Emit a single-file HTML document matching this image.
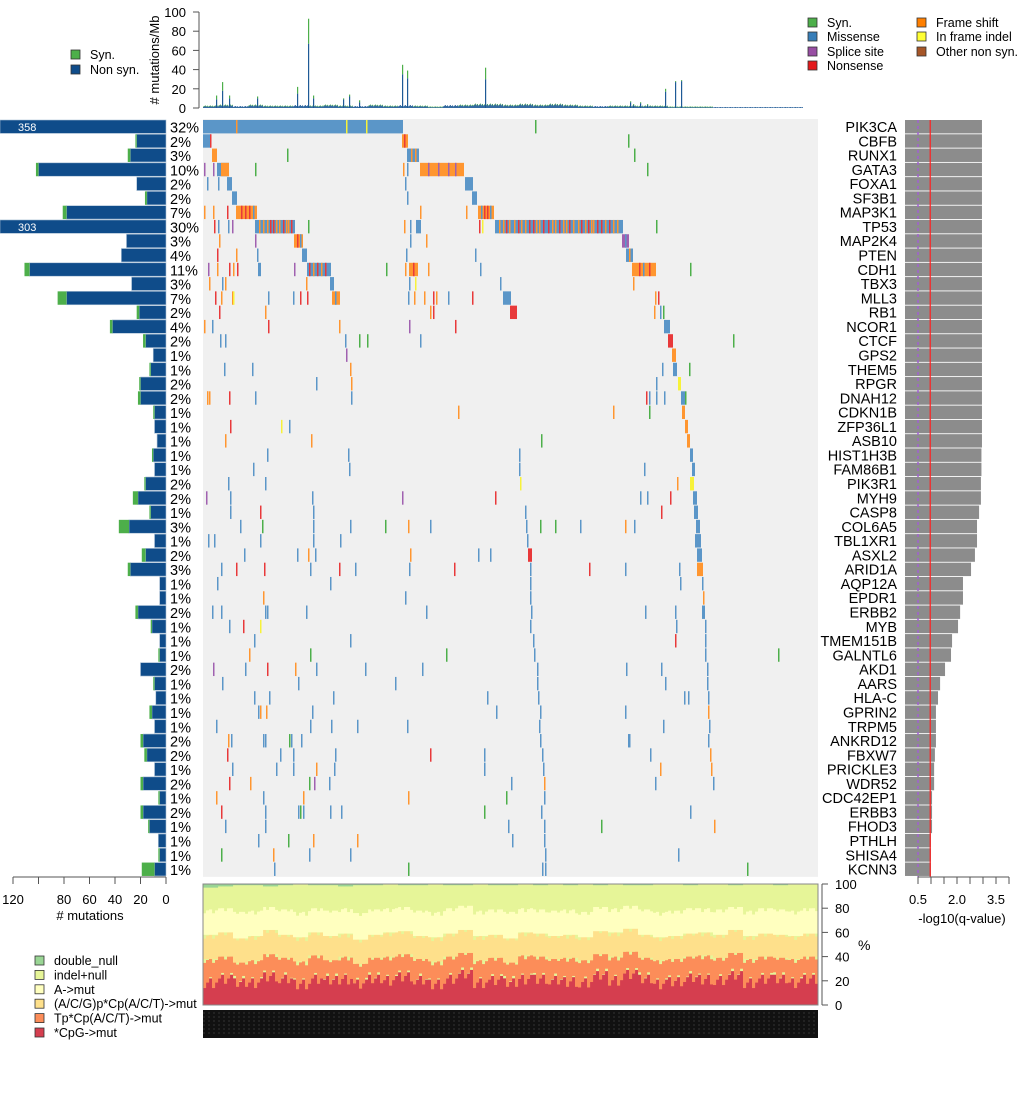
<!DOCTYPE html>
<html><head><meta charset="utf-8">
<style>
html,body{margin:0;padding:0;background:#fff;}
svg{display:block;font-family:"Liberation Sans",sans-serif;}
</style></head>
<body>
<svg id="chart" width="1020" height="1116" viewBox="0 0 1020 1116" xmlns="http://www.w3.org/2000/svg">
<g id="hist"></g>
<g id="matrix"></g>
<g id="leftbars"></g>
<g id="qbars"></g>
<g id="spectrum"></g>
<g id="legends"></g>
</svg>
<script>
const genes=["PIK3CA","CBFB","RUNX1","GATA3","FOXA1","SF3B1","MAP3K1","TP53","MAP2K4","PTEN","CDH1","TBX3","MLL3","RB1","NCOR1","CTCF","GPS2","THEM5","RPGR","DNAH12","CDKN1B","ZFP36L1","ASB10","HIST1H3B","FAM86B1","PIK3R1","MYH9","CASP8","COL6A5","TBL1XR1","ASXL2","ARID1A","AQP12A","EPDR1","ERBB2","MYB","TMEM151B","GALNTL6","AKD1","AARS","HLA-C","GPRIN2","TRPM5","ANKRD12","FBXW7","PRICKLE3","WDR52","CDC42EP1","ERBB3","FHOD3","PTHLH","SHISA4","KCNN3"];
const pct=[32,2,3,10,2,2,7,30,3,4,11,3,7,2,4,2,1,1,2,2,1,1,1,1,1,2,2,1,3,1,2,3,1,1,2,1,1,1,2,1,1,1,1,2,2,1,2,1,2,1,1,1,1];
const nonSyn=[358,23,28,100,23,15,78,303,31,35,107,27,78,21,42,16,10,12,20,20,9,9,7,10,9,16,22,12,29,9,16,28,5,5,22,11,5,5,20,9,8,11,9,18,15,9,18,5,18,13,6,5,9];
const syn=[0,1,2,2,0,1.5,3,0,0,0,4,0,7,2,2,2,0,1,1,2,1,0,0,1,0,1,4,1,8,0,3,2,0,0,2,1,0,1,0,1,0,2,0,2,2,0,2,1,2,1,0,1,10];
const qval=[2.96,2.96,2.96,2.96,2.96,2.96,2.96,2.96,2.96,2.96,2.96,2.96,2.96,2.96,2.96,2.96,2.96,2.96,2.96,2.96,2.96,2.96,2.96,2.94,2.94,2.92,2.92,2.85,2.77,2.77,2.69,2.54,2.23,2.23,2.12,2.04,1.81,1.77,1.54,1.35,1.27,1.19,1.19,1.19,1.15,1.12,1.12,1.04,1.04,1.04,1.0,1.0,1.0];
const muts=[
"0-199:m 33:f 143:i 163:i 332:s",
"0-7:m 7:n 199-204:f 201:n 425:s",
"9-13:f 84:s 204-215:m 208:f 212:f 431:s",
"1:p 10:p 14-25:m 18-25:f 52:s 200:f 204:m 217-260:f 225:p 235:p 245:p 252:p 444:s",
"4:m 15:m 24-28:m 202:m 262-269:m",
"29-33:m 204:m 269-273:m",
"1:f 10:f 24:n 33-53:f 38:n 42:n 46:n 50:m 217:f 263:f 275-290:f 278:m 281:n 284:n 287:m",
"11:n 15:m 25:m 29:p 52-91:m 56:f 60:f 64:f 67:n 70:n 73:f 76:f 80:n 83:f 85:f 88:n 105:s 201:f 207:m 213-217:m 276:n 279:i 292-419:m 296:f 300:f 303:n 306:f 311:f 315:n 318:f 322:f 326:n 330:n 333:f 336:f 340:n 345:n 349:f 352:f 356:n 360:f 363:f 366:n 370:f 375:f 378:n 382:f 385:n 388:f 390:f 394:n 398:n 402:f 406:n 410:f 414:f 453:s",
"16:f 52:p 91-99:f 94:n 97:m 207:m 223:f 419-425:p 422:m",
"14:n 33:f 54:m 99-103:m 203:m 272:m 423-429:m 426:f",
"5:p 14:f 26:n 30:f 34:n 55-57:m 91:p 104-127:m 106:n 110:f 114:n 118:f 122:n 183:s 202:f 206-214:f 210:n 225:f 277:m 429-452:f 436:n 440:m 446:n 487:s",
"6:f 19:m 22:f 103:f 127-130:m 206:m 212:i 297:m 430:f",
"12:n 18:f 29:f 30:i 65:m 90:m 97:n 104:n 129-136:f 132:m 205:m 211:f 221:f 230:n 233:f 245:m 269:n 300-307:m 455:n 452:f",
"16:n 62:f 227:f 230:n 307-313:n 460:s 451:f 457:m",
"1:f 9:m 65:n 136:f 206:p 252:n 461-466:m",
"17:m 22:m 142:m 156:s 164:s 217:m 465-469:n 530:s",
"143:p 469-472:f",
"21:m 49:m 147:f 459:m 470-473:m 486:s",
"113:m 148:f 453:m 475-477:i",
"4:f 4:f 6:f 26:n 52:m 148:m 443:n 446:m 453:m 461:m 478-481:m 482:s",
"255:f 479-481:f 446:s 410:f",
"27:n 78:i 86:m 482-484:f",
"22:f 108:f 338:s 484-486:f",
"64:m 145:m 316:m 487-489:m",
"50:m 146:m 316:m 441:m 489-491:m",
"25:m 62:m 317:i 474:f 487-490:i",
"3:p 27:m 109:m 199:p 292:n 437:m 444:m 467:n 490-493:m",
"27:m 57:n 110:m 322:m 458:n 491-494:m",
"37:m 59:s 110:m 147:m 182:s 205:f 227:m 323:m 337:s 352:s 377:m 422:f 431:m 493-496:m",
"5:m 11:m 57:m 110:m 137:m 324:m 492-497:m",
"41:m 94:m 105:f 112:m 207:f 275:m 287:m 325-328:n 494-498:m",
"18:m 33:n 61:n 107:m 136:n 152:m 206:m 251:n 327:m 386:n 422:m 476:m 494-499:f",
"14:m 127:m 327:m 477:m 499:m",
"60:f 202:m 327:m 500:f",
"9:m 18:m 62:m 64:m 103:m 223:m 328:m 442:m 472:m 499-501:m",
"26:m 40:n 57:i 327:m 473:m 502:m",
"51:m 147:m 330:m 472:n 502:m",
"46:f 107:s 243:s 331:m 502:m 575:s",
"10:p 42:m 64:n 92:f 113:m 162:m 219:m 334:m 423:m 458:m 504:m",
"19:m 95:m 192:m 334:m 462:m 504:m",
"51:m 66:m 130:m 284:m 335:m 481:m 485:m 505:m",
"55:m 57:f 63:f 109:m 293:m 337:m 422:m 505:f",
"13:m 107:m 128:m 154:m 204:m 336:m 460:m 506:m",
"25:f 28:m 60:m 62:m 86:s 88:m 98:m 337:m 425:m 426:m 505:m",
"24:n 77:m 90:m 132:m 227:n 281:m 339:m 447:m 507:f",
"29:m 73:m 90:m 113:f 131:m 281:m 340:m 457:f 508:f",
"26:n 47:f 106:s 111:p 126:m 308:m 341:f 452:m 510:m",
"13:f 60:m 100:f 205:f 303:s 341:m",
"18:n 62:m 95:m 97:s 100:m 127:m 138:m 281:s 338:m 487:m",
"22:m 62:m 305:m 341:m 398:s 511:f",
"55:m 85:s 110:f 154:f 309:m 341:m",
"18:s 70:f 106:m 147:m 342:m 475:m",
"71:m 205:s 339:m 342:m 544:s"
];
const typeColor={s:"#4daf4a",m:"#5b96c8",p:"#a061b0",n:"#e8393a",f:"#ff9630",i:"#f7f23a",o:"#a65628"};
const peakIdx=[13,19,26,54,94,105,110,140,146,156,199,204,282,427,437,462,472,478,430,444];
const peakNon=[9,18,10,10,15,67,10,9,12,6,35,31,30,6,5,17,27,28,3,3];
const peakSyn=[4,9,3,2,7,26,3,1,2,2,10,8,12,1,1,3,1,1,1,1];
const baseNon=[2,3,2,3,2,2,3,2,3,2,2,3,2,3,2,1,3,3,4,4,3,4,3,4,3,2,2,2,2,2,2,1,1,1,1,1,1,1,1,1,0];
const baseSyn=[1,1,0,1,1,1,0,1,1,1,0,1,1,0,1,1,0,1,1,1,1,1,1,1,1,1,0,1,1,1,1,1,1,1,0,0,0,0,0,0,0];
const specCpG=[20,22,18,20,24,21,19,22,20,23,18,21,22,24,20,19,22,25,20,21,18,23,22,20,21,19,24,22,26,21,19,20,22,23,21,24,20,22,21,20,22];
const specTp=[38,40,35,37,42,39,36,41,37,40,34,39,40,42,38,36,40,43,37,39,35,41,40,38,39,37,42,40,44,39,37,38,40,41,39,43,38,40,39,38,40];
const specACG=[58,60,55,57,62,58,56,60,57,59,54,58,60,61,57,56,59,62,57,58,55,60,59,57,58,56,61,60,63,58,56,57,59,60,58,62,57,59,58,57,59];
const specA=[79,80,77,78,81,79,77,80,78,80,76,79,80,81,78,77,80,82,78,79,77,80,79,78,79,77,81,80,82,79,77,78,80,80,79,81,78,80,79,78,80];
const specDbl=[97,98,99,99,98,99,100,99,99,98,99,99,100,99,99,100,99,99,100,99,99,100,99,100,99,100,99,100,99,99,100,100,99,100,100,99,100,100,99,100,100];

const NS="http://www.w3.org/2000/svg";
function mk(parent,tag,attrs,text){const e=document.createElementNS(NS,tag);for(const k in attrs)e.setAttribute(k,attrs[k]);if(text!==undefined)e.textContent=text;parent.appendChild(e);return e;}

const MX0=203,MX1=818,NSAMP=615,ROW0=120,PITCH=14.28,RH=13.4;
const sx=i=>MX0+i*(MX1-MX0)/NSAMP;
const rowY=g=>ROW0+g*PITCH;

const H=document.getElementById('hist');
const hy=v=>108-v*0.96;
mk(H,'line',{x1:199,y1:hy(0),x2:199,y2:hy(100),stroke:'#555'});
[0,20,40,60,80,100].forEach(t=>{
 const l=mk(H,'line',{x1:193,y1:hy(t),x2:199,y2:hy(t),stroke:'#555'});
 
 const tx=mk(H,'text',{x:186,y:hy(t)+5,'text-anchor':'end','font-size':13},String(t));
 
});
const ht=mk(H,'text',{transform:'translate(159,60) rotate(-90)','text-anchor':'middle','font-size':13},'# mutations/Mb');

baseNon.forEach((v,g)=>{
 for(let k=0;k<15;k++){const i=g*15+k;if(i>=NSAMP)break;
  if(v===0)continue;
  const vv=v*(0.6+0.4*((k*7)%5)/4);
  const r=mk(H,'rect',{x:sx(i),y:hy(vv),width:0.9,height:vv*0.96,fill:'#1f5a96'});
  
  if(baseSyn[g]){const s=mk(H,'rect',{x:sx(i),y:hy(vv+baseSyn[g]*0.6),width:0.9,height:baseSyn[g]*0.6*0.96,fill:'#4daf4a'});
  }
 }
});
peakIdx.forEach((i,k)=>{
 const r=mk(H,'rect',{x:sx(i),y:hy(peakNon[k]),width:1.2,height:peakNon[k]*0.96,fill:'#1f5a96'});
 
 const s=mk(H,'rect',{x:sx(i),y:hy(peakNon[k]+peakSyn[k]),width:1.2,height:peakSyn[k]*0.96,fill:'#4daf4a'});
 
});

const M=document.getElementById('matrix');
const bg=mk(M,'rect',{x:MX0,y:ROW0-1,width:MX1-MX0,height:genes.length*PITCH+1,fill:'#f0f0f0'});

muts.forEach((str,g)=>{
 str.split(' ').forEach(tok=>{
  const [rng,t]=tok.split(':');const p=rng.split('-').map(Number);
  const a=p[0],b=p.length>1?p[1]:p[0];
  const x=sx(a),w=Math.max(1.5,sx(b+1)-sx(a));
  const r=mk(M,'rect',{x:x,y:rowY(g),width:p.length>1?w:1.5,height:RH,fill:typeColor[t]});
  
  
 });
 const gl=mk(M,'text',{x:897,y:rowY(g)+12,'text-anchor':'end','font-size':14.5},genes[g]);
 
 const pl=mk(M,'text',{x:170,y:rowY(g)+12.5,'font-size':14.5},pct[g]+'%');
 
});

const L=document.getElementById('leftbars');
const lx=v=>166-v*1.275;
nonSyn.forEach((v,g)=>{
 const x0=Math.max(0,lx(v));
 const r=mk(L,'rect',{x:x0,y:rowY(g),width:166-x0,height:RH,fill:'#0f4c8a',stroke:'#a9bfd4','stroke-width':0.6});
 
 if(syn[g]>0&&lx(v)>0){const s=mk(L,'rect',{x:lx(v+syn[g]),y:rowY(g),width:syn[g]*1.275,height:RH,fill:'#4daf4a'});
  }
 if(lx(v)<0){const t=mk(L,'text',{x:18,y:rowY(g)+11,'font-size':11,fill:'#fff'},String(v));
  }
});
mk(L,'line',{x1:lx(120),y1:877,x2:lx(0),y2:877,stroke:'#555'});
[0,20,40,60,80,100,120].forEach(t=>{
 const l=mk(L,'line',{x1:lx(t),y1:877,x2:lx(t),y2:884,stroke:'#555'});
 
 if(t!==100){const tx=mk(L,'text',{x:lx(t),y:904,'text-anchor':'middle','font-size':13},String(t));
 }
});
const lt=mk(L,'text',{x:90,y:920,'text-anchor':'middle','font-size':13},'# mutations');


const Q=document.getElementById('qbars');
const qx=v=>905+v*26;
qval.forEach((v,g)=>{
 const r=mk(Q,'rect',{x:905,y:rowY(g),width:qx(v)-905,height:RH,fill:'#8c8c8c'});
 
});
const ql=mk(Q,'line',{x1:qx(0.5),y1:ROW0,x2:qx(0.5),y2:rowY(genes.length),stroke:'#a060d0','stroke-width':1.5,'stroke-dasharray':'3,3'});

const qr=mk(Q,'line',{x1:qx(0.97),y1:ROW0,x2:qx(0.97),y2:rowY(genes.length),stroke:'#ff2020','stroke-width':1.2});

mk(Q,'line',{x1:qx(0.5),y1:877,x2:qx(4),y2:877,stroke:'#555'});
[0.5,1,1.5,2,2.5,3,3.5,4].forEach(t=>{
 const l=mk(Q,'line',{x1:qx(t),y1:877,x2:qx(t),y2:884,stroke:'#555'});
 
});
[0.5,2.0,3.5].forEach(t=>{
 const tx=mk(Q,'text',{x:qx(t),y:904,'text-anchor':'middle','font-size':13},t.toFixed(1));
 
});
const qt=mk(Q,'text',{x:962,y:923,'text-anchor':'middle','font-size':13},'-log10(q-value)');


const S=document.getElementById('spectrum');
const SY0=1005,SY1=884;
const py=v=>SY0-(SY0-SY1)*v/100;
const layers=[[null,specCpG,'#d53e4f','cpg'],[specCpG,specTp,'#fc8d59','tpcp'],[specTp,specACG,'#fee08b','acg'],[specACG,specA,'#ffffbf','a-mut'],[specA,specDbl,'#e6f598','indel-null'],[specDbl,null,'#99d594','double-null']];
mk(S,'rect',{x:MX0,y:SY1,width:MX1-MX0,height:SY0-SY1,fill:'#e6f598'});
layers.forEach(([lo,hi,c,n])=>{
 for(let g=0;g<41;g++){
  for(let k=0;k<15;k+=3){const i=g*15+k;if(i>=NSAMP)break;
   const jit=((g*13+k*7)%9-4);
   const a=lo?lo[g]+(n==='tpcp'?jit:0)*0.5+ (lo===specCpG?jit:0):0;
   const b=hi?hi[g]+jit*(n==='cpg'?1:0.8):100;
   const y0=py(Math.min(100,b)),y1=py(Math.max(0,a));
   if(y1<=y0)continue;
   const r=mk(S,'rect',{x:sx(i),y:y0,width:sx(i+3)-sx(i)+0.1,height:y1-y0,fill:c});
   
  }
 }
});
mk(S,'rect',{x:MX0,y:SY1,width:MX1-MX0,height:SY0-SY1,fill:'none',stroke:'#888'});
mk(S,'line',{x1:822,y1:SY0,x2:822,y2:SY1,stroke:'#555'});
[0,20,40,60,80,100].forEach(t=>{
 const l=mk(S,'line',{x1:822,y1:py(t),x2:828,y2:py(t),stroke:'#555'});
 
 const tx=mk(S,'text',{x:835,y:py(t)+5,'font-size':13},String(t));
 
});
const st=mk(S,'text',{x:858,y:950,'font-size':14},'%');

const lab=mk(S,'rect',{x:MX0,y:1010,width:MX1-MX0,height:28,fill:'#111'});

for(let y=1013;y<1036;y+=4){mk(S,'line',{x1:MX0,y1:y,x2:MX1,y2:y,stroke:'#555','stroke-width':0.6,'stroke-dasharray':'2,3'});}

const G=document.getElementById('legends');
function leg(x,y,c,t,tx){
 const r=mk(G,'rect',{x:x,y:y,width:9,height:9,fill:c,stroke:'#333','stroke-width':0.8});
 
 const e=mk(G,'text',{x:tx,y:y+9,'font-size':12.5},t);
 
}
leg(71,50,'#4daf4a','Syn.',90);leg(71,65,'#0f4c8a','Non syn.',90);
leg(808,18,'#4daf4a','Syn.',827);leg(808,32,'#377eb8','Missense',827);leg(808,47,'#984ea3','Splice site',827);leg(808,61,'#e41a1c','Nonsense',827);
leg(917,18,'#ff7f00','Frame shift',936);leg(917,32,'#ffff33','In frame indel',936);leg(917,47,'#a65628','Other non syn.',936);
const bl=[['#99d594','double_null'],['#e6f598','indel+null'],['#ffffbf','A->mut'],['#fee08b','(A/C/G)p*Cp(A/C/T)->mut'],['#fc8d59','Tp*Cp(A/C/T)->mut'],['#d53e4f','*CpG->mut']];
bl.forEach(([c,t],k)=>leg(35,956+k*14.4,c,t,54));
</script>
</body></html>
